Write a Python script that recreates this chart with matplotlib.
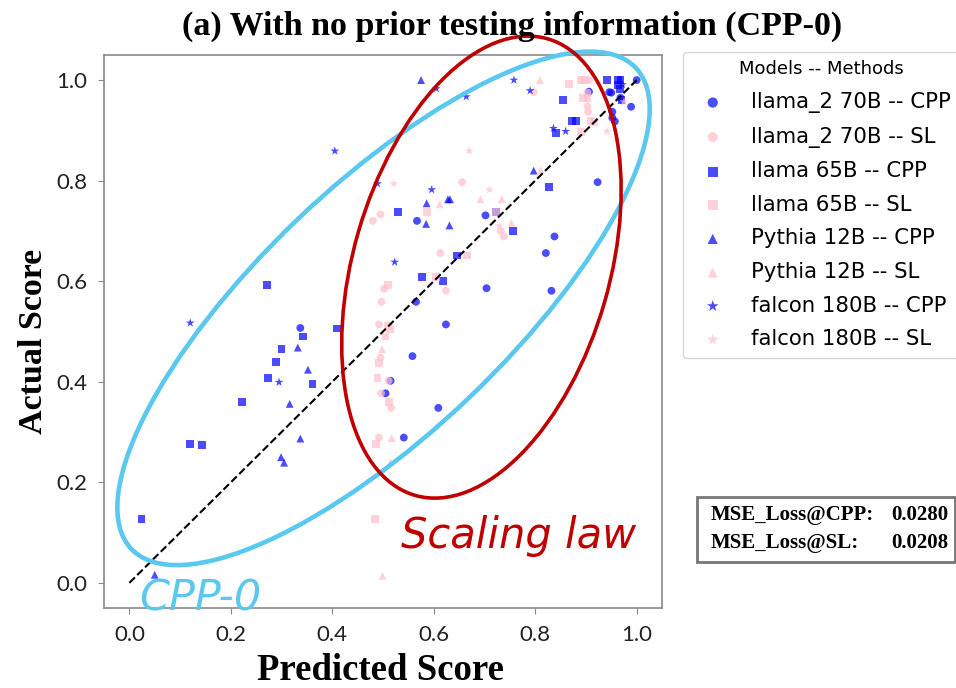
import matplotlib as mpl
mpl.use('Agg')
import matplotlib.pyplot as plt
from matplotlib.patches import Ellipse, Rectangle

# llama_2 70B
l2_cpp_x = [1.0, 0.906, 0.946, 0.950, 0.968, 0.989, 0.952, 0.952, 0.957, 0.923, 0.567, 0.702, 0.838, 0.821,
            0.704, 0.832, 0.565, 0.624, 0.558, 0.515, 0.505, 0.609, 0.541, 0.337]
l2_cpp_y = [1.0, 0.977, 0.976, 0.975, 0.965, 0.947, 0.937, 0.925, 0.918, 0.797, 0.720, 0.731, 0.689, 0.656,
            0.586, 0.581, 0.559, 0.514, 0.451, 0.402, 0.377, 0.348, 0.289, 0.507]
l2_sl_x = [0.797, 0.906, 0.903, 0.904, 0.903, 0.656, 0.480, 0.495, 0.613, 0.624, 0.502, 0.497, 0.492,
           0.495, 0.496, 0.516, 0.492, 0.732, 0.738, 0.511]
l2_sl_y = [0.976, 1.0, 0.948, 0.937, 0.975, 0.797, 0.720, 0.733, 0.656, 0.581, 0.585, 0.559, 0.514,
           0.448, 0.377, 0.348, 0.289, 0.700, 0.689, 0.402]

# llama 65B
l1_cpp_x = [0.942, 0.964, 0.968, 0.963, 0.967, 0.855, 0.970, 0.873, 0.880, 0.841, 0.828, 0.529, 0.723,
            0.756, 0.645, 0.577, 0.619, 0.272, 0.342, 0.409, 0.300, 0.289, 0.273, 0.361, 0.222, 0.120,
            0.144, 0.024]
l1_cpp_y = [1.0, 1.0, 1.0, 0.991, 0.983, 0.961, 0.961, 0.918, 0.918, 0.894, 0.788, 0.737, 0.737,
            0.700, 0.651, 0.608, 0.600, 0.592, 0.490, 0.506, 0.465, 0.439, 0.407, 0.395, 0.359, 0.277,
            0.275, 0.127]
l1_sl_x = [0.867, 0.891, 0.896, 0.895, 0.903, 0.909, 0.916, 0.891, 0.586, 0.723, 0.665, 0.604, 0.509,
           0.510, 0.513, 0.505, 0.492, 0.489, 0.511, 0.487, 0.485]
l1_sl_y = [0.993, 1.0, 1.0, 0.965, 0.965, 0.918, 0.917, 0.896, 0.737, 0.737, 0.651, 0.609, 0.592,
           0.512, 0.504, 0.490, 0.438, 0.407, 0.360, 0.276, 0.127]

# Pythia 12B
py_cpp_x = [0.575, 0.797, 0.586, 0.585, 0.628, 0.632, 0.631, 0.332, 0.352, 0.316, 0.337, 0.299, 0.305, 0.050]
py_cpp_y = [1.0, 0.820, 0.755, 0.714, 0.763, 0.763, 0.711, 0.468, 0.424, 0.356, 0.287, 0.250, 0.239, 0.016]
py_sl_x = [0.809, 0.811, 0.612, 0.692, 0.734, 0.753, 0.498, 0.517, 0.515, 0.499]
py_sl_y = [1.0, 0.821, 0.753, 0.763, 0.763, 0.716, 0.465, 0.288, 0.240, 0.014]

# falcon 180B
fa_cpp_x = [0.405, 0.489, 0.605, 0.664, 0.758, 0.790, 0.972, 0.836, 0.860, 0.596, 0.523, 0.120, 0.295]
fa_cpp_y = [0.859, 0.794, 0.983, 0.967, 1.0, 0.979, 0.991, 0.904, 0.898, 0.782, 0.638, 0.517, 0.399]
fa_sl_x = [0.670, 0.521, 0.710, 0.975, 0.942, 0.729]
fa_sl_y = [0.859, 0.794, 0.782, 0.957, 0.898, 0.710]

mse_cpp = 0.0280
mse_sl = 0.0208

series = [
    (l2_cpp_x, l2_cpp_y, 'o', 'blue', 'llama_2 70B -- CPP'),
    (l2_sl_x, l2_sl_y, 'o', 'pink', 'llama_2 70B -- SL'),
    (l1_cpp_x, l1_cpp_y, 's', 'blue', 'llama 65B -- CPP'),
    (l1_sl_x, l1_sl_y, 's', 'pink', 'llama 65B -- SL'),
    (py_cpp_x, py_cpp_y, '^', 'blue', 'Pythia 12B -- CPP'),
    (py_sl_x, py_sl_y, '^', 'pink', 'Pythia 12B -- SL'),
    (fa_cpp_x, fa_cpp_y, '*', 'blue', 'falcon 180B -- CPP'),
    (fa_sl_x, fa_sl_y, '*', 'pink', 'falcon 180B -- SL'),
]

serif = ['Liberation Serif', 'DejaVu Serif']

fig = plt.figure(figsize=(9.56, 6.88), dpi=100)
ax = fig.add_axes([0.1088, 0.1163, 0.5837, 0.8038])

for x, y, m, c, lab in series:
    s = 45 if m == '*' else 32
    ax.scatter(x, y, marker=m, s=s, color=c, alpha=0.7, edgecolors='none', label=lab, zorder=3)

# diagonale
ax.plot([0, 1], [0, 1], linestyle='--', color='black', lw=1.5, zorder=4)

ax.set_xlim(-0.05, 1.05)
ax.set_ylim(-0.05, 1.05)
ax.set_xticks([0.0, 0.2, 0.4, 0.6, 0.8, 1.0])
ax.set_yticks([0.0, 0.2, 0.4, 0.6, 0.8, 1.0])
for sp in ax.spines.values():
    sp.set_color('#8a8a8a')
    sp.set_linewidth(1.2)
ax.tick_params(colors='#8a8a8a', length=4, labelcolor='#222222', labelsize=16, pad=8)
for t in ax.get_xticklabels() + ax.get_yticklabels():
    t.set_family('Lato')

# ellipses annotations
ax.add_patch(Ellipse((0.501, 0.546), 1.38, 0.49, angle=44, fill=False,
                     edgecolor='#5bc8ef', lw=3.3, clip_on=False, zorder=5))
ax.add_patch(Ellipse((0.694, 0.628), 0.505, 0.945, angle=-16, fill=False,
                     edgecolor='#c00000', lw=2.6, clip_on=False, zorder=5))
ax.text(0.535, 0.07, 'Scaling law', color='#c00000', fontsize=30, style='oblique', zorder=6)
ax.text(0.02, -0.055, 'CPP-0', color='#5bc8ef', fontsize=31, style='oblique', zorder=6, clip_on=False)

# titres
fig.text(0.536, 0.961, '(a) With no prior testing information (CPP-0)', ha='center', va='center',
         fontsize=24.5, fontweight='bold', family=serif)
fig.text(0.398, 0.026, 'Predicted Score', ha='center', va='center',
         fontsize=26.5, fontweight='bold', family=serif)
fig.text(0.035, 0.503, 'Actual Score', ha='center', va='center', rotation=90,
         fontsize=24.5, fontweight='bold', family=serif)

# legende
leg = fig.legend(loc='upper left', bbox_to_anchor=(683 / 956, 1 - 52 / 688), fontsize=15.3,
                 title='Models -- Methods', title_fontsize=13, markerscale=1.3, frameon=True,
                 borderaxespad=0, labelspacing=0.64)
leg.get_frame().set_edgecolor('#cccccc')

# boite MSE
fig.patches.append(Rectangle((697 / 956, 1 - 562 / 688), 258 / 956, 65 / 688, transform=fig.transFigure,
                             fill=False, edgecolor='#777777', lw=2))
fig.text(711 / 956, 1 - 515 / 688, 'MSE_Loss@CPP:', va='center', fontsize=15, fontweight='bold', family=serif)
fig.text(948 / 956, 1 - 515 / 688, '%.4f' % mse_cpp, ha='right', va='center', fontsize=15,
         fontweight='bold', family=serif)
fig.text(711 / 956, 1 - 543 / 688, 'MSE_Loss@SL:', va='center', fontsize=15, fontweight='bold', family=serif)
fig.text(948 / 956, 1 - 543 / 688, '%.4f' % mse_sl, ha='right', va='center', fontsize=15,
         fontweight='bold', family=serif)

fig.savefig('out.png', dpi=100)
